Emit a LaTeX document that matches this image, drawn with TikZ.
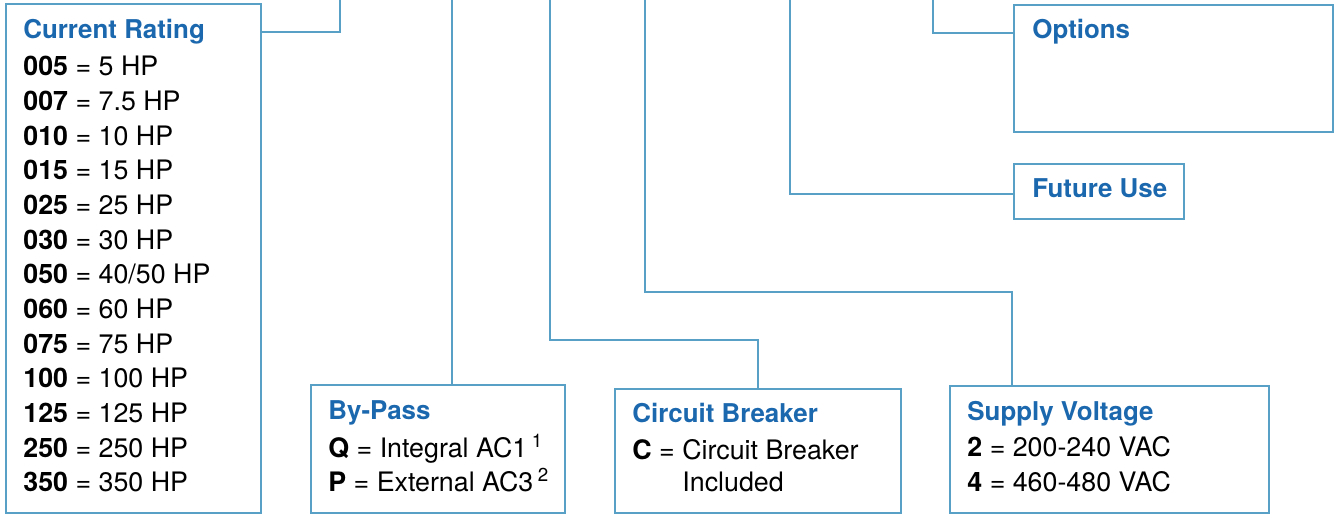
\documentclass[tikz,border=0pt]{standalone}
\usepackage{fontspec}
\setmainfont{TeX Gyre Heros}
\usepackage{xcolor}
\definecolor{framebl}{RGB}{88,160,198}
\definecolor{titlebl}{RGB}{28,104,174}
\usepackage{tikz}
\usetikzlibrary{positioning, calc}
\tikzset{
  codebox/.style={
    rectangle, draw=framebl, line width=1.2pt,
    anchor=north west, inner sep=0pt},
  boxtitle/.style={
    anchor=base west, inner sep=0pt, text=titlebl,
    font=\fontsize{12.95}{15}\selectfont\bfseries},
  entry/.style={
    anchor=base west, inner sep=0pt,
    font=\fontsize{13.4}{17}\selectfont},
  lead/.style={draw=framebl, line width=0.8pt},
}

\begin{document}
\begin{tikzpicture}[x=0.5pt, y=-0.5pt]
  \useasboundingbox (0,0) rectangle (1334,517);
  % code boxes
  \node[codebox, minimum width=127.5pt, minimum height=254.5pt] (rating) at (5,3) {};
  \node[codebox, minimum width=127pt, minimum height=64pt] (bypass) at (310,384) {};
  \node[codebox, minimum width=143pt, minimum height=62pt] (breaker) at (614,388) {};
  \node[codebox, minimum width=159.5pt, minimum height=63.5pt] (volt) at (949,385) {};
  \node[codebox, minimum width=159.5pt, minimum height=63.5pt] (opts) at (1013,4) {};
  \node[codebox, minimum width=85pt, minimum height=27.5pt] (future) at (1013,163) {};

  % current rating
  \node[boxtitle] (rating-t) at (23,39) {Current Rating};
  \foreach \code/\hp [count=\i from 0] in
    {005/5,007/7.5,010/10,015/15,025/25,030/30,050/40\slash 50,
     060/60,075/75,100/100,125/125,250/250,350/350}
    \node[entry] (rating-\i) at (23,76+34.64*\i) {\textbf{\code} = \hp\ HP};

  % by-pass
  \node[boxtitle] (bypass-t) at (328,420) {By-Pass};
  \node[entry] (bypass-q) at (328,458)
    {\textbf{Q} = Integral AC1\,\textsuperscript{1}};
  \node[entry] (bypass-p) at (328,491.7)
    {\textbf{P} = External AC3\,\textsuperscript{2}};

  % circuit breaker
  \node[boxtitle] (breaker-t) at (632,423) {Circuit Breaker};
  \node[entry] (breaker-c) at (632,460) {\textbf{C} = Circuit Breaker};
  \node[entry] (breaker-i) at (682,491.7) {Included};

  % supply voltage
  \node[boxtitle] (volt-t) at (967,420.7) {Supply Voltage};
  \node[entry] (volt-2) at (967,457) {\textbf{2} = 200-240 VAC};
  \node[entry] (volt-4) at (967,491.7) {\textbf{4} = 460-480 VAC};

  % options, future use
  \node[boxtitle] (opts-t) at (1032,38.3) {Options};
  \node[boxtitle] (future-t) at (1032,198) {Future Use};

  % leads up to the code string
  \coordinate (top-rating) at (340,0);
  \coordinate (top-bypass) at (452,0);
  \coordinate (top-breaker) at (550,0);
  \coordinate (top-volt) at (645,0);
  \coordinate (top-future) at (790,0);
  \coordinate (top-opts) at (933,0);

  \draw[lead] (top-rating) |- ([yshift=-14.5pt]rating.north east);
  \draw[lead] (top-bypass) -- (top-bypass |- bypass.north);
  \draw[lead] (top-breaker) -- ++(0,340) -| (breaker.north);
  \draw[lead] (top-volt) -- ++(0,292) -| ([xshift=31.5pt]volt.north west);
  \draw[lead] (top-future) |- ([yshift=-1.25pt]future.west);
  \draw[lead] (top-opts) |- ([yshift=-14.5pt]opts.north west);
\end{tikzpicture}
\end{document}
